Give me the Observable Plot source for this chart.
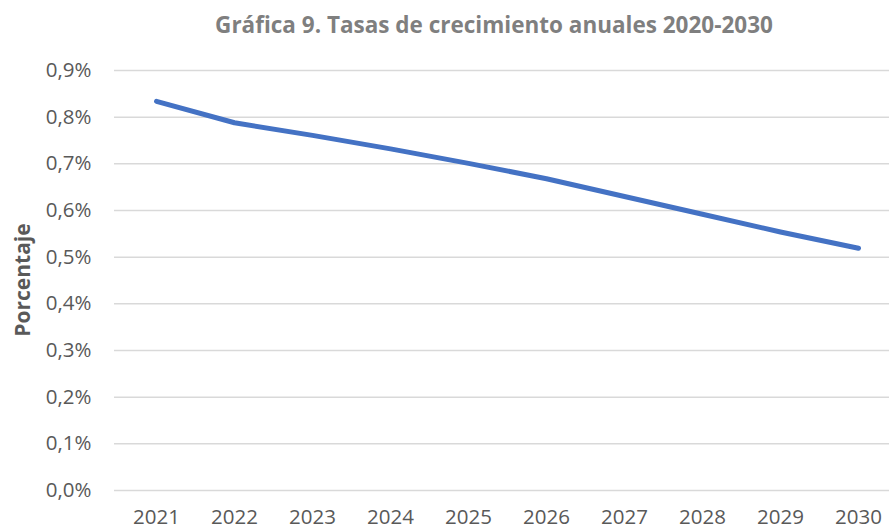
<!DOCTYPE html>
<html>
<head>
<meta charset="utf-8">
<script src="https://cdn.jsdelivr.net/npm/d3@7"></script>
<script src="https://cdn.jsdelivr.net/npm/@observablehq/plot@0.6"></script>
<style>
  html, body { margin: 0; padding: 0; background: #fff; }
  #wrap { position: relative; width: 889px; height: 531px; overflow: hidden; font-family: "Open Sans", sans-serif; background: #fff; }
  #title { position: absolute; top: 10px; left: 494px; transform: translateX(-50%); white-space: nowrap; z-index: 2;
           font-size: 22.5px; font-weight: bold; color: #7f7f7f; line-height: 30px; }
  #ylab { position: absolute; left: 22px; top: 280px; transform: translate(-50%, -50%) rotate(-90deg); white-space: nowrap; z-index: 2;
          font-size: 21px; font-weight: bold; color: #595959; line-height: 24px; }
  #chart { position: absolute; left: 0; top: 50px; z-index: 1; }
</style>
</head>
<body>
<div id="wrap">
  <div id="title">Gráfica 9. Tasas de crecimiento anuales 2020-2030</div>
  <div id="ylab">Porcentaje</div>
  <div id="chart"></div>
</div>
<script>
const years = ["2021","2022","2023","2024","2025","2026","2027","2028","2029","2030"];
const rates = [0.834, 0.788, 0.761, 0.732, 0.701, 0.668, 0.630, 0.592, 0.554, 0.519];
const yTicks = [0, 0.1, 0.2, 0.3, 0.4, 0.5, 0.6, 0.7, 0.8, 0.9];

const data = years.map((y, i) => ({year: y, rate: rates[i]}));

const chart = Plot.plot({
  width: 889,
  height: 481,
  marginLeft: 114,
  marginRight: 0,
  marginTop: 20,
  marginBottom: 41,
  style: {fontFamily: "'Open Sans', sans-serif", fontSize: "20.5px", color: "#595959", background: "transparent", overflow: "visible"},
  x: {type: "point", domain: years, range: [152, 862], padding: 0, tickSize: 0, tickPadding: 19, label: null},
  y: {domain: [0, 0.9], ticks: yTicks, tickSize: 0, tickPadding: 23, label: null,
      tickFormat: d => d.toFixed(1).replace(".", ",") + "%"},
  marks: [
    Plot.ruleY(yTicks, {stroke: "#d9d9d9", strokeWidth: 1.5}),
    Plot.line(data, {x: "year", y: "rate", stroke: "#4472C4", strokeWidth: 5, strokeLinecap: "round", strokeLinejoin: "round"})
  ]
});
document.getElementById("chart").appendChild(chart);
</script>
</body>
</html>
